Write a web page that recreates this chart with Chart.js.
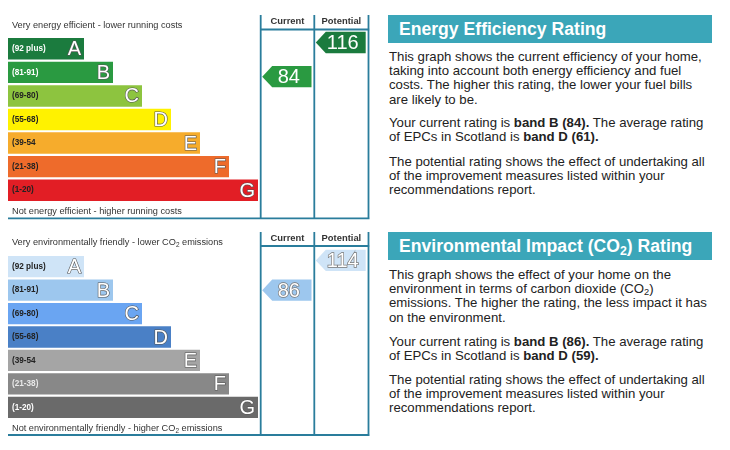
<!DOCTYPE html>
<html>
<head>
<meta charset="utf-8">
<script src="https://cdn.jsdelivr.net/npm/chart.js@4.4.1/dist/chart.umd.min.js"></script>
<style>
    body { margin: 0; background: #fff; width: 730px; height: 450px; overflow: hidden; position: relative; font-family: 'Liberation Sans', Arial, sans-serif; }
    canvas { position: absolute; left: 0; }
    #energy { top: 0; }
    #co2 { top: 225px; }
    .ttl { position: absolute; left: 388px; width: 324px; height: 28px; background: #3ba6b9; color: #fff; font-weight: bold; font-size: 17.6px; line-height: 28px; padding-left: 11px; box-sizing: border-box; white-space: nowrap; }
    .p { position: absolute; left: 389px; margin: 0; font-size: 13.2px; line-height: 14.2px; color: #222; white-space: nowrap; }
    sub { font-size: 70%; line-height: 0; vertical-align: -0.25em; }
</style>
</head>
<body>
<canvas id="energy" width="370" height="225"></canvas>
<canvas id="co2" width="370" height="225"></canvas>

<div class="ttl" style="top:15px">Energy Efficiency Rating</div>
<p class="p" style="top:50px">This graph shows the current efficiency of your home,<br>taking into account both energy efficiency and fuel<br>costs. The higher this rating, the lower your fuel bills<br>are likely to be.</p>
<p class="p" style="top:116px">Your current rating is <b>band B (84).</b> The average rating<br>of EPCs in Scotland is <b>band D (61).</b></p>
<p class="p" style="top:155px">The potential rating shows the effect of undertaking all<br>of the improvement measures listed within your<br>recommendations report.</p>

<div class="ttl" style="top:232px">Environmental Impact (CO<sub>2</sub>) Rating</div>
<p class="p" style="top:268px">This graph shows the effect of your home on the<br>environment in terms of carbon dioxide (CO<sub>2</sub>)<br>emissions. The higher the rating, the less impact it has<br>on the environment.</p>
<p class="p" style="top:335px">Your current rating is <b>band B (86).</b> The average rating<br>of EPCs in Scotland is <b>band D (59).</b></p>
<p class="p" style="top:373px">The potential rating shows the effect of undertaking all<br>of the improvement measures listed within your<br>recommendations report.</p>

<script>
    // bands, top (best) to bottom
    var bands = ['A', 'B', 'C', 'D', 'E', 'F', 'G'];
    var bandRanges = ['(92 plus)', '(81-91)', '(69-80)', '(55-68)', '(39-54', '(21-38)', '(1-20)'];
    var bandMin = [92, 81, 69, 55, 39, 21, 1];
    var bandLength = [76, 105, 134, 163, 192, 221, 250];

    // [current, potential]
    var energyRatings = [84, 116];
    var co2Ratings = [86, 114];

    var energyColours = ['#1b7b3e', '#2a9a41', '#8dc43f', '#fff200', '#f6ac2c', '#ee6b2b', '#e21e25'];
    var energyLabelColours = ['#fff', '#fff', '#222', '#222', '#222', '#222', '#222'];
    var co2Colours = ['#cfe4f7', '#9dc7ee', '#6aa5f2', '#4a80c6', '#a5a5a5', '#888888', '#6a6a6a'];
    var co2LabelColours = ['#222', '#222', '#222', '#222', '#222', '#e8e8e8', '#fff'];

    var FONT = "'Liberation Sans', Arial, sans-serif";
    var LINE = '#2a7d9c';
    var colEdges = [252.7, 306.3, 360.5]; // x-scale units

    function bandOf(r) {
        for (var i = 0; i < bandMin.length; i++) {
            if (r >= bandMin[i]) return i;
        }
        return bandMin.length - 1;
    }

    // small vertical nudge inside the band row depending on where the value sits
    function rowPos(r) {
        var i = bandOf(r);
        var width = i === 0 ? 11 : bandMin[i - 1] - bandMin[i];
        var mid = bandMin[i] + (width - 1) / 2;
        var shift = (mid - r) / width;
        shift = Math.max(-0.27, Math.min(0.27, shift));
        return i + shift;
    }

    function drawParts(ctx, parts, x, y, size, colour) {
        ctx.fillStyle = colour;
        ctx.textBaseline = 'middle';
        ctx.textAlign = 'left';
        parts.forEach(function (p) {
            if (p.sub) {
                ctx.font = (size * 0.7) + 'px ' + FONT;
                ctx.fillText(p.t, x, y + size * 0.3);
            } else {
                ctx.font = size + 'px ' + FONT;
                ctx.fillText(p.t, x, y);
            }
            x += ctx.measureText(p.t).width;
        });
    }

    function makeDecor(cfg) {
        return {
            id: 'epcDecor',
            afterDatasetsDraw: function (chart) {
                var ctx = chart.ctx;
                var xs = chart.scales.x, ys = chart.scales.y;
                var meta = chart.getDatasetMeta(0);
                var left = xs.getPixelForValue(0);
                var c0 = xs.getPixelForValue(colEdges[0]);
                var c1 = xs.getPixelForValue(colEdges[1]);
                var c2 = xs.getPixelForValue(colEdges[2]);
                ctx.save();

                // frame
                ctx.strokeStyle = LINE;
                ctx.lineWidth = 1.8;
                ctx.beginPath();
                [c0, c1, c2].forEach(function (cx) {
                    ctx.moveTo(cx, cfg.colTop);
                    ctx.lineTo(cx, cfg.bottomY);
                });
                ctx.moveTo(c0, cfg.headLineY);
                ctx.lineTo(c2 + 1, cfg.headLineY);
                ctx.moveTo(left, cfg.bottomY);
                ctx.lineTo(c2 + 1, cfg.bottomY);
                ctx.stroke();

                ctx.fillStyle = '#333';
                ctx.font = 'bold 9.4px ' + FONT;
                ctx.textAlign = 'center';
                ctx.textBaseline = 'middle';
                ctx.fillText('Current', (c0 + c1) / 2, cfg.headLineY - 8);
                ctx.fillText('Potential', (c1 + c2) / 2, cfg.headLineY - 8);

                drawParts(ctx, cfg.header, left + 4, cfg.headerY, 9.2, '#333');
                drawParts(ctx, cfg.footer, left + 4, cfg.footerY, 9.2, '#333');

                // band labels and letters
                meta.data.forEach(function (bar, i) {
                    ctx.font = 'bold 8.2px ' + FONT;
                    ctx.textAlign = 'left';
                    ctx.textBaseline = 'middle';
                    ctx.fillStyle = cfg.labelColours[i];
                    ctx.fillText(bandRanges[i], left + 4, bar.y);

                    ctx.font = '20px ' + FONT;
                    ctx.textAlign = 'right';
                    ctx.lineWidth = 1.2;
                    ctx.strokeStyle = '#555';
                    ctx.strokeText(bands[i], bar.x - 3, bar.y + 1);
                    ctx.fillStyle = '#fff';
                    ctx.fillText(bands[i], bar.x - 3, bar.y + 1);
                });

                // rating arrows
                var h = meta.data[0].height;
                var cols = [[c0, c1], [c1, c2]];
                cfg.ratings.forEach(function (r, k) {
                    var yc = ys.getPixelForValue(rowPos(r));
                    var tip = cols[k][0] + 1.5, body = tip + 10, end = cols[k][1] - 2.8;
                    ctx.fillStyle = cfg.colours[bandOf(r)];
                    ctx.beginPath();
                    ctx.moveTo(tip, yc);
                    ctx.lineTo(body, yc - h / 2);
                    ctx.lineTo(end, yc - h / 2);
                    ctx.lineTo(end, yc + h / 2);
                    ctx.lineTo(body, yc + h / 2);
                    ctx.closePath();
                    ctx.fill();

                    ctx.font = '20px ' + FONT;
                    ctx.textAlign = 'center';
                    ctx.textBaseline = 'middle';
                    var tx = (body + end) / 2 - 3;
                    if (cfg.numStroke) {
                        ctx.lineWidth = 1.4;
                        ctx.strokeStyle = '#777';
                        ctx.strokeText(String(r), tx, yc + 1);
                    }
                    ctx.fillStyle = '#fff';
                    ctx.fillText(String(r), tx, yc + 1);
                });
                ctx.restore();
            }
        };
    }

    function buildChart(id, colours, cfg) {
        var ctx = document.getElementById(id).getContext('2d');
        return new Chart(ctx, {
            type: 'bar',
            data: {
                labels: bands,
                datasets: [{
                    data: bandLength,
                    backgroundColor: colours,
                    borderWidth: 0,
                    barPercentage: 0.91,
                    categoryPercentage: 1
                }]
            },
            options: {
                indexAxis: 'y',
                responsive: false,
                animation: false,
                layout: { padding: { left: 8, right: 0, top: cfg.padTop, bottom: cfg.padBottom } },
                scales: {
                    x: { type: 'linear', min: 0, max: 362, display: false },
                    y: { type: 'category', display: false }
                },
                plugins: { legend: { display: false }, tooltip: { enabled: false } }
            },
            plugins: [makeDecor(cfg)]
        });
    }

    buildChart('energy', energyColours, {
        padTop: 37, padBottom: 23,
        colTop: 15, headLineY: 29.5, bottomY: 218.3,
        headerY: 25.5, footerY: 211.5,
        header: [{ t: 'Very energy efficient - lower running costs' }],
        footer: [{ t: 'Not energy efficient - higher running costs' }],
        labelColours: energyLabelColours,
        colours: energyColours,
        ratings: energyRatings,
        numStroke: false
    });

    buildChart('co2', co2Colours, {
        padTop: 30, padBottom: 31,
        colTop: 7, headLineY: 21, bottomY: 210,
        headerY: 17.3, footerY: 203.3,
        header: [{ t: 'Very environmentally friendly - lower CO' }, { t: '2', sub: true }, { t: ' emissions' }],
        footer: [{ t: 'Not environmentally friendly - higher CO' }, { t: '2', sub: true }, { t: ' emissions' }],
        labelColours: co2LabelColours,
        colours: co2Colours,
        ratings: co2Ratings,
        numStroke: true
    });
</script>
</body>
</html>
